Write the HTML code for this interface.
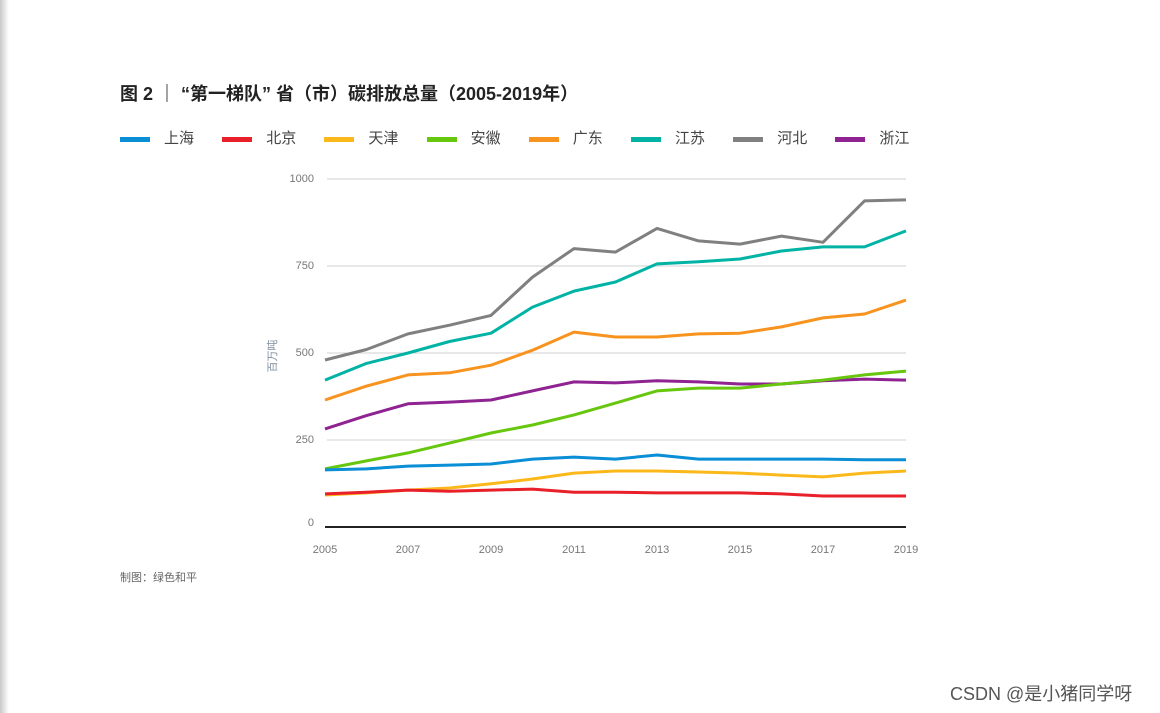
<!DOCTYPE html>
<html><head><meta charset="utf-8"><style>
html,body{margin:0;padding:0;background:#fff;}
body{width:1160px;height:713px;position:relative;overflow:hidden;font-family:"Liberation Sans","Noto Sans CJK SC",sans-serif;}
.shadow{position:absolute;left:0;top:0;width:9px;height:713px;background:linear-gradient(to right,#c8c8c8,#f0f0f0 70%,#fff);}
.title{position:absolute;left:120px;top:80px;font-size:18px;font-weight:bold;color:#222;white-space:nowrap;}
.leg{position:absolute;top:127px;font-size:15px;color:#444;white-space:nowrap;}
.leg i{display:inline-block;width:30px;height:5px;vertical-align:middle;margin-right:14px;}
.foot{position:absolute;left:120px;top:569px;font-size:11px;color:#666;}
.wm{position:absolute;left:950px;top:680px;font-size:18px;color:#555;white-space:nowrap;}
</style></head><body>
<div class="shadow"></div>
<div class="title">图 2 ｜ “第一梯队” 省（市）碳排放总量（2005-2019年）</div>
<div id="legend"></div>
<svg id="chart" width="1160" height="713" style="position:absolute;left:0;top:0"></svg>
<div class="foot">制图：绿色和平</div>
<div class="wm">CSDN @是小猪同学呀</div>
<script>
const years=[2005,2006,2007,2008,2009,2010,2011,2012,2013,2014,2015,2016,2017,2018,2019];
const xTicks=[2005,2007,2009,2011,2013,2015,2017,2019];
const yTicks=[0,250,500,750,1000];
const names=["上海","北京","天津","安徽","广东","江苏","河北","浙江"];
const colors=["#0a8ed6","#e8202a","#fbb81a","#66c70e","#f7931e","#00b3a4","#808080","#8e2391"];
const shanghai=[164,167,175,178,181,195,201,195,207,195,195,195,195,193,193];
const beijing=[95,100,106,103,106,109,100,100,98,98,98,95,89,89,89];
const tianjin=[92,98,106,112,124,138,155,161,161,158,155,149,144,155,161];
const anhui=[167,190,213,241,270,293,322,356,391,399,399,411,422,437,448];
const guangdong=[365,405,437,443,465,508,560,546,546,555,557,575,601,612,652];
const jiangsu=[422,470,500,533,557,632,678,704,756,762,770,793,805,805,851];
const hebei=[480,510,555,580,608,718,800,790,858,822,813,836,818,937,940];
const zhejiang=[282,320,354,359,365,391,417,414,420,417,411,411,420,425,422];
const series=[shanghai,beijing,tianjin,anhui,guangdong,jiangsu,hebei,zhejiang];
const drawOrder=[6,5,4,7,3,0,2,1];
const X=y=>325+(y-2005)*(906-325)/14;
const Y=v=>527-v*0.348;
const NS="http://www.w3.org/2000/svg";
const svg=document.getElementById('chart');
function mk(t,a){const e=document.createElementNS(NS,t);for(const k in a)e.setAttribute(k,a[k]);svg.appendChild(e);return e;}
yTicks.forEach(t=>{
  if(t>0){const g=mk('line',{x1:327,x2:906,y1:Y(t),y2:Y(t),stroke:'#d0d0d0','stroke-width':1});
  
  }
  const l=mk('text',{x:314,y:Y(t)+(t==0?-1:3),'text-anchor':'end','font-size':11,fill:'#777','font-family':'Liberation Sans, sans-serif'});
  l.textContent=t;
  
  
});
xTicks.forEach(t=>{
  const l=mk('text',{x:X(t),y:553,'text-anchor':'middle','font-size':11,fill:'#777','font-family':'Liberation Sans, sans-serif'});
  l.textContent=t;
  
  
});
const yt=mk('text',{x:276,y:356,'text-anchor':'middle','font-size':11,fill:'#8090a0','font-family':'Noto Sans CJK SC, sans-serif',transform:'rotate(-90 276 356)'});
yt.textContent='百万吨';


drawOrder.forEach(i=>{
  const d=series[i].map((v,j)=>(j?'L':'M')+X(years[j]).toFixed(1)+' '+Y(v).toFixed(1)).join('');
  const p=mk('path',{d:d,fill:'none',stroke:colors[i],'stroke-width':3,'stroke-linejoin':'round'});
  
  
});
const ax=mk('line',{x1:325,x2:906,y1:527,y2:527,stroke:'#222','stroke-width':2});


const leg=document.getElementById('legend');
names.forEach((n,i)=>{
  const d=document.createElement('div');
  d.className='leg';
  d.style.left=(120+i*102.2)+'px';
  d.innerHTML='<i style="background:'+colors[i]+'"></i>'+n;
  
  
  leg.appendChild(d);
});
</script>
</body></html>
